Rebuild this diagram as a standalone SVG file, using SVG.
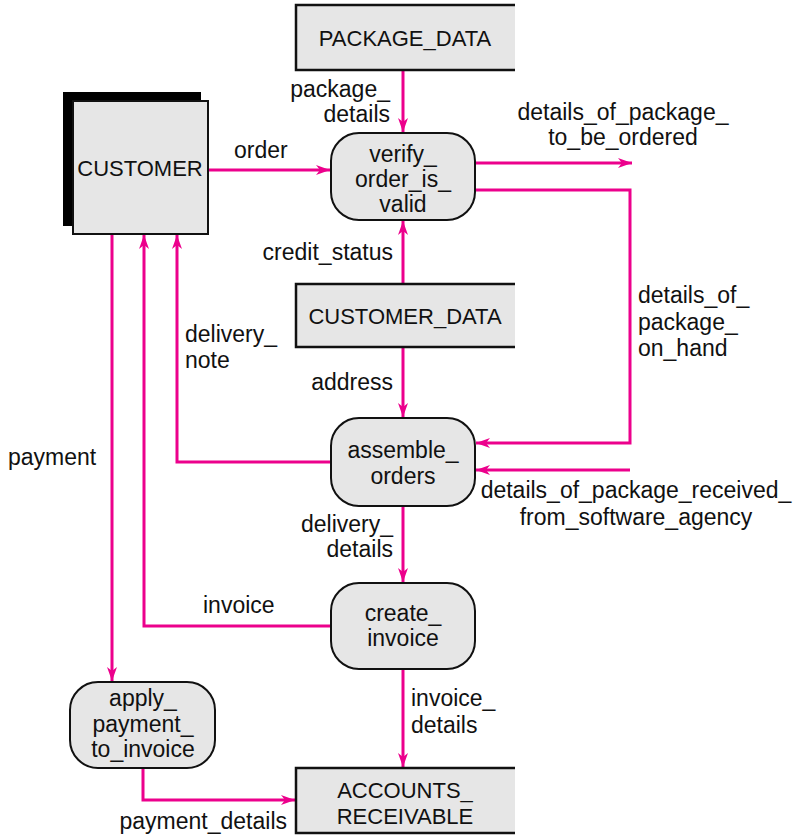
<svg xmlns="http://www.w3.org/2000/svg" width="795" height="836" viewBox="0 0 795 836">
<style>
text{font-family:"Liberation Sans",Arial,sans-serif;font-size:23px;fill:#111}
.u{font-size:22px}
.c{text-anchor:middle}.r{text-anchor:end}
.proc{fill:#e6e6e6;stroke:#111;stroke-width:2}
.store{fill:#e6e6e6;stroke:none}
.sl{fill:none;stroke:#111;stroke-width:2.5}
.f{fill:none;stroke:#ec008c;stroke-width:3}
</style>
<defs>
<marker id="a" viewBox="0 0 14 10" refX="14" refY="5" markerWidth="14" markerHeight="10" markerUnits="userSpaceOnUse" orient="auto">
<path d="M0,0 L14,5 L0,10 L4,5 Z" fill="#ec008c"/>
</marker>
</defs>
<g id="connectors">
<path class="f" d="M403,70 V132" marker-end="url(#a)"/>
<path class="f" d="M208,170 H330" marker-end="url(#a)"/>
<path class="f" d="M475,163 H632" marker-end="url(#a)"/>
<path class="f" d="M475,190 H630 V443 H476" marker-end="url(#a)"/>
<path class="f" d="M630,470 H476" marker-end="url(#a)"/>
<path class="f" d="M403,284 V221" marker-end="url(#a)"/>
<path class="f" d="M403,347 V417" marker-end="url(#a)"/>
<path class="f" d="M331,462 H177 V235" marker-end="url(#a)"/>
<path class="f" d="M403,507 V582" marker-end="url(#a)"/>
<path class="f" d="M331,626 H144 V235" marker-end="url(#a)"/>
<path class="f" d="M112,234 V681" marker-end="url(#a)"/>
<path class="f" d="M403,669 V767" marker-end="url(#a)"/>
<path class="f" d="M143,768 V800 H295" marker-end="url(#a)"/>
</g>
<g id="PACKAGE_DATA">
<rect class="store" x="296" y="5" width="219" height="65"/>
<path class="sl" d="M515,5 H296 V70 H515"/>
<text class="c u" x="405" y="46">PACKAGE_DATA</text>
</g>
<g id="CUSTOMER">
<rect x="63" y="92" width="138" height="134" fill="#000"/>
<rect class="proc" x="73" y="101" width="135" height="133"/>
<text class="c u" x="140" y="176">CUSTOMER</text>
</g>
<g id="verify_order_is_valid">
<rect class="proc" x="331" y="133" width="144" height="87" rx="28"/>
<text class="c" x="403" y="162">verify_</text>
<text class="c" x="403" y="187">order_is_</text>
<text class="c" x="403" y="212">valid</text>
</g>
<g id="CUSTOMER_DATA">
<rect class="store" x="296" y="284" width="219" height="63"/>
<path class="sl" d="M515,284 H296 V347 H515"/>
<text class="c u" x="405" y="324">CUSTOMER_DATA</text>
</g>
<g id="assemble_orders">
<rect class="proc" x="331" y="418" width="144" height="88" rx="28"/>
<text class="c" x="403" y="458">assemble_</text>
<text class="c" x="403" y="484">orders</text>
</g>
<g id="create_invoice">
<rect class="proc" x="331" y="583" width="144" height="86" rx="28"/>
<text class="c" x="403" y="621">create_</text>
<text class="c" x="403" y="646">invoice</text>
</g>
<g id="apply_payment_to_invoice">
<rect class="proc" x="70" y="682" width="145" height="86" rx="28"/>
<text class="c" x="143" y="706">apply_</text>
<text class="c" x="143" y="732">payment_</text>
<text class="c" x="143" y="757">to_invoice</text>
</g>
<g id="ACCOUNTS_RECEIVABLE">
<rect class="store" x="296" y="768" width="219" height="65"/>
<path class="sl" d="M515,768 H296 V833 H515"/>
<text class="c u" x="405" y="798">ACCOUNTS_</text>
<text class="c u" x="405" y="824">RECEIVABLE</text>
</g>
<g id="labels">
<text class="r" x="390" y="97">package_</text>
<text class="r" x="390" y="122">details</text>
<text x="234" y="158">order</text>
<text class="c" x="623" y="120">details_of_package_</text>
<text class="c" x="623" y="145">to_be_ordered</text>
<text class="r" x="393" y="260">credit_status</text>
<text x="638" y="303">details_of_</text>
<text x="638" y="330">package_</text>
<text x="638" y="356">on_hand</text>
<text x="185" y="342">delivery_</text>
<text x="185" y="368">note</text>
<text class="r" x="393" y="390">address</text>
<text x="8" y="465">payment</text>
<text class="c" x="636" y="498">details_of_package_received_</text>
<text class="c" x="636" y="525">from_software_agency</text>
<text class="r" x="393" y="532">delivery_</text>
<text class="r" x="393" y="557">details</text>
<text x="203" y="613">invoice</text>
<text x="411" y="706">invoice_</text>
<text x="411" y="733">details</text>
<text class="r" x="287" y="829">payment_details</text>
</g>
</svg>
